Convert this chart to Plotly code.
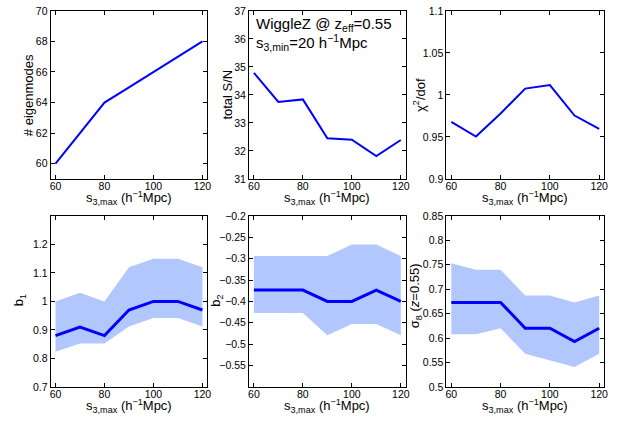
import plotly.graph_objects as go

# s_3,max values (h^-1 Mpc)
s3max = [60, 70, 80, 90, 100, 110, 120]

# Top row
n_eigen = [60, 62, 64, 65, 66, 67, 68]
total_sn = [34.79, 33.75, 33.84, 32.45, 32.40, 31.82, 32.39]
chi2_dof = [0.968, 0.9505, 0.978, 1.0075, 1.0118, 0.9755, 0.9597]

# Bottom row: best fit with confidence band
b1 = [0.88, 0.91, 0.88, 0.97, 1.00, 1.00, 0.97]
b1_hi = [1.00, 1.03, 1.00, 1.12, 1.15, 1.15, 1.12]
b1_lo = [0.823, 0.852, 0.852, 0.912, 0.942, 0.942, 0.912]

b2 = [-0.3735, -0.3735, -0.3735, -0.40, -0.40, -0.3735, -0.40]
b2_hi = [-0.294, -0.294, -0.294, -0.294, -0.267, -0.267, -0.294]
b2_lo = [-0.427, -0.427, -0.427, -0.479, -0.453, -0.453, -0.479]

sig8 = [0.673, 0.673, 0.673, 0.62, 0.62, 0.593, 0.62]
sig8_hi = [0.753, 0.74, 0.74, 0.687, 0.687, 0.673, 0.687]
sig8_lo = [0.608, 0.608, 0.62, 0.568, 0.555, 0.541, 0.568]

x_ticks = [60, 80, 100, 120]
x_title = "s<sub>3,max</sub> (h<sup>\u22121</sup>Mpc)"

LINE = "rgb(0,0,255)"
BAND = "rgb(179,199,255)"
FONT = "Liberation Sans, Arial, sans-serif"
W, H = 620, 425

# panel boxes in pixels: (left, right), (top, bottom)
xpix = [(50, 208), (250, 408), (449, 608)]
ypix = [(5, 178), (216, 392)]

fig = go.Figure()

panels = [
    # (y, lo, hi, yrange, yticks, ytitle, row, title centre x, title centre y)
    (n_eigen, None, None, [59, 70], [60, 62, 64, 66, 68, 70], "# eigenmodes", 0, 28, 92),
    (total_sn, None, None, [31, 37], [31, 32, 33, 34, 35, 36, 37], "total S/N", 0, 228, 91),
    (chi2_dof, None, None, [0.9, 1.1], [0.9, 0.95, 1.0, 1.05, 1.1],
     "χ<sup>2</sup>/dof", 0, 422, 92),
    (b1, b1_lo, b1_hi, [0.7, 1.3], [0.7, 0.8, 0.9, 1.0, 1.1, 1.2], "b<sub>1</sub>", 1, 19, 303),
    (b2, b2_lo, b2_hi, [-0.6, -0.2],
     [-0.55, -0.5, -0.45, -0.4, -0.35, -0.3, -0.25, -0.2], "b<sub>2</sub>", 1, 217, 303),
    (sig8, sig8_lo, sig8_hi, [0.5, 0.85],
     [0.5, 0.55, 0.6, 0.65, 0.7, 0.75, 0.8, 0.85],
     "σ<sub>8</sub> (<i>z</i>=0.55)", 1, 418, 298),
]


def fmt(v):
    return ("%g" % v).replace("-", "\u2212")


def label(text, px, py, angle=0, size=13):
    fig.add_annotation(text=text, xref="paper", yref="paper", x=px / W, y=1 - py / H,
                       xanchor="center", yanchor="middle", showarrow=False,
                       textangle=angle, font=dict(family=FONT, size=size, color="black"))


for i, (y, lo, hi, yr, yt, ytitle, row, tx, ty) in enumerate(panels):
    n = i + 1
    xa = "x" if n == 1 else f"x{n}"
    ya = "y" if n == 1 else f"y{n}"
    if lo is not None:
        fig.add_trace(go.Scatter(x=s3max + s3max[::-1], y=hi + lo[::-1],
                                 fill="toself", fillcolor=BAND, mode="lines",
                                 line=dict(width=0, color=BAND),
                                 hoverinfo="skip", showlegend=False,
                                 xaxis=xa, yaxis=ya))
    fig.add_trace(go.Scatter(x=s3max, y=y, mode="lines",
                             line=dict(color=LINE, width=2 if row == 0 else 3),
                             showlegend=False, xaxis=xa, yaxis=ya))
    col = i % 3
    (l, r), (t, b) = xpix[col], ypix[row]
    common = dict(showline=True, linecolor="black", linewidth=1, mirror="ticks",
                  ticks="inside", ticklen=4, tickcolor="black", showgrid=False,
                  zeroline=False, tickfont=dict(family=FONT, size=10.5, color="black"))
    fig.layout[f"xaxis{n if n > 1 else ''}"] = dict(
        domain=[l / W, r / W], range=[58, 122], tickvals=x_ticks, anchor=ya,
        ticklabelstandoff=-3, **common)
    fig.layout[f"yaxis{n if n > 1 else ''}"] = dict(
        domain=[1 - b / H, 1 - t / H], range=yr,
        tickvals=yt, ticktext=[fmt(v) for v in yt], anchor=xa, **common)
    label(x_title, (l + r) / 2, b + 20)
    label(ytitle, tx, ty, angle=-90)

# dataset note inside the S/N panel
fig.add_annotation(text="WiggleZ @ z<sub>eff</sub>=0.55", xref="x2 domain", yref="y2 domain",
                   x=0.03, y=0.985, xanchor="left", yanchor="top", showarrow=False,
                   font=dict(family=FONT, size=15, color="black"))
fig.add_annotation(text="s<sub>3,min</sub>=20 h<sup>\u22121</sup>Mpc", xref="x2 domain",
                   yref="y2 domain", x=0.03, y=0.885, xanchor="left", yanchor="top",
                   showarrow=False, font=dict(family=FONT, size=15, color="black"))

fig.update_layout(width=W, height=H, margin=dict(l=0, r=0, t=0, b=0),
                  paper_bgcolor="white", plot_bgcolor="white",
                  font=dict(family=FONT, color="black"))

fig.write_html("out.html")
